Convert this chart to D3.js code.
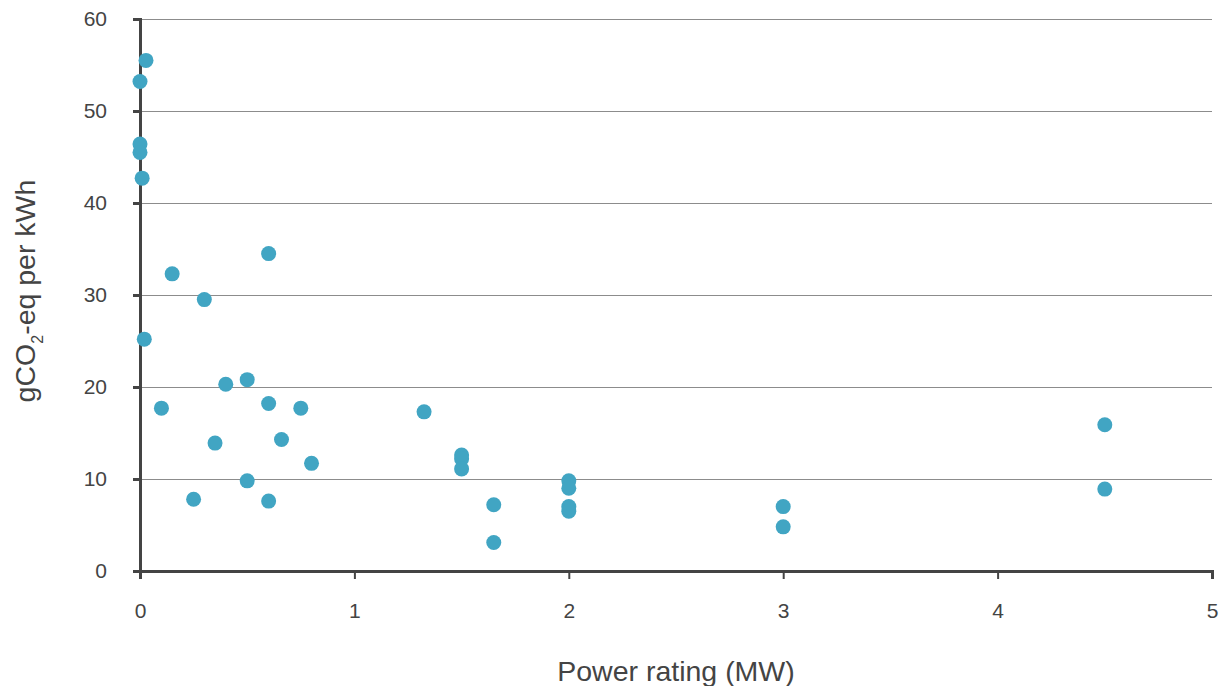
<!DOCTYPE html>
<html>
<head>
<meta charset="utf-8">
<script src="https://cdn.jsdelivr.net/npm/d3@7"></script>
<style>
  body { margin: 0; background: #fff; }
  text { font-family: "Liberation Sans", Arial, sans-serif; fill: #444; }
</style>
</head>
<body>
<div id="chart"></div>
<script>
// power rating (MW) and gCO2-eq per kWh
const powerMW = [0.028, 0, 0, 0, 0.01, 0.15, 0.3, 0.6, 0.02, 0.4, 0.5, 0.1, 0.6, 0.75,
  0.35, 0.66, 0.8, 0.5, 0.25, 0.6, 1.325, 1.5, 1.5, 1.5, 1.65, 1.65,
  2, 2, 2, 2, 3, 3, 4.5, 4.5];
const emissions = [55.5, 53.2, 46.4, 45.5, 42.7, 32.3, 29.5, 34.5, 25.2, 20.3, 20.8, 17.7, 18.2, 17.7,
  13.9, 14.3, 11.7, 9.8, 7.8, 7.6, 17.3, 12.6, 12.2, 11.1, 7.2, 3.1,
  9.8, 9.0, 7.0, 6.5, 7.0, 4.8, 15.9, 8.9];
const xTicks = [0, 1, 2, 3, 4, 5];
const yTicks = [0, 10, 20, 30, 40, 50, 60];

const points = powerMW.map((p, i) => ({ p: p, e: emissions[i] }));

var margin = { top: 19, right: 20, bottom: 115, left: 140 },
  width = 1232 - margin.left - margin.right,
  height = 686 - margin.top - margin.bottom;

var svg = d3.select("#chart")
  .append("svg")
  .attr("width", 1232)
  .attr("height", 686)
  .append("g")
  .attr("transform", "translate(" + margin.left + "," + margin.top + ")");

var x = d3.scaleLinear().domain([0, 5]).range([0, width]);
var y = d3.scaleLinear().domain([0, 60]).range([height, 0]);

// horizontal gridlines
svg.selectAll(".grid")
  .data(yTicks.filter(d => d > 0))
  .join("line")
  .attr("x1", 0)
  .attr("x2", width)
  .attr("y1", d => Math.round(y(d)) + 0.5)
  .attr("y2", d => Math.round(y(d)) + 0.5)
  .style("stroke", "#8c8c8c")
  .style("stroke-width", 1);

// y axis
var yAxis = svg.append("g")
  .call(d3.axisLeft(y).tickValues(yTicks).tickFormat(d3.format("d")).tickSize(7).tickPadding(26));
yAxis.select(".domain").style("stroke", "#444").style("stroke-width", 3);
yAxis.selectAll(".tick line").style("stroke", "#444").style("stroke-width", 3);
yAxis.selectAll(".tick text")
  .style("font-size", "21px")
  .style("fill", "#444")
  .style("font-family", "'Liberation Sans', Arial, sans-serif");

// x axis
var xAxis = svg.append("g")
  .attr("transform", "translate(0," + height + ")")
  .call(d3.axisBottom(x).tickValues(xTicks).tickFormat(d3.format("d")).tickSize(8).tickPadding(24));
xAxis.select(".domain").style("stroke", "#444").style("stroke-width", 3);
xAxis.selectAll(".tick line").style("stroke", "#444").style("stroke-width", 2);
xAxis.selectAll(".tick text")
  .style("font-size", "21px")
  .style("fill", "#444")
  .style("font-family", "'Liberation Sans', Arial, sans-serif");

// points
svg.selectAll("circle")
  .data(points)
  .join("circle")
  .attr("cx", d => x(d.p))
  .attr("cy", d => y(d.e))
  .attr("r", 7.5)
  .style("fill", "#41a5c3");

// axis titles
svg.append("text")
  .attr("x", width / 2)
  .attr("y", height + 110)
  .style("text-anchor", "middle")
  .style("font-size", "28.5px")
  .text("Power rating (MW)");

var yTitle = svg.append("text")
  .attr("transform", "translate(" + (-105) + "," + (height / 2 - 4) + ") rotate(-90)")
  .style("text-anchor", "middle")
  .style("font-size", "28.5px");
yTitle.append("tspan").text("gCO");
yTitle.append("tspan").attr("dy", 8).style("font-size", "16px").text("2");
yTitle.append("tspan").attr("dy", -8).text("-eq per kWh");
</script>
</body>
</html>
